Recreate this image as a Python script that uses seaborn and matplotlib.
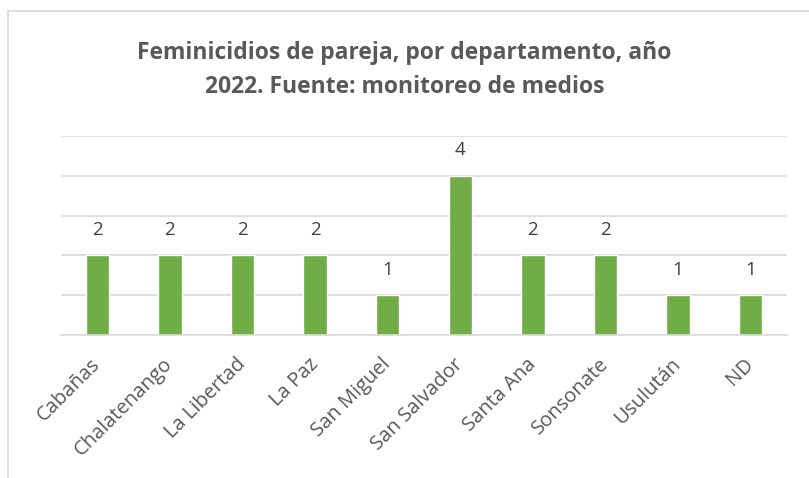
import matplotlib
matplotlib.use("Agg")
import matplotlib.pyplot as plt
import matplotlib.transforms as mtransforms
import seaborn as sns
import pandas as pd
from matplotlib.lines import Line2D

departamentos = ["Cabañas", "Chalatenango", "La Libertad", "La Paz", "San Miguel",
                 "San Salvador", "Santa Ana", "Sonsonate", "Usulután", "ND"]
casos = [2, 2, 2, 2, 1, 4, 2, 2, 1, 1]

sns.set_theme(style="white")
plt.rcParams["font.family"] = ["Open Sans", "DejaVu Sans"]

df = pd.DataFrame({"departamento": departamentos, "casos": casos})

W, H = 809, 478
fig = plt.figure(figsize=(W / 100, H / 100), dpi=100)
ax = fig.add_axes([61 / W, 1 - 335 / H, (787 - 61) / W, (335 - 136) / H])

sns.barplot(data=df, x="departamento", y="casos", color="#70ad47",
            width=0.32, ax=ax, saturation=1)

ax.set_ylim(0, 5)
ax.set_yticks(range(0, 6))
ax.yaxis.grid(True, color="#d9d9d9", linewidth=1.2)
ax.set_axisbelow(True)
ax.tick_params(axis="y", left=False, labelleft=False)
ax.tick_params(axis="x", bottom=False, length=0, pad=14)
for s in ["top", "right", "left"]:
    ax.spines[s].set_visible(False)
ax.spines["bottom"].set_color("#d9d9d9")
ax.spines["bottom"].set_linewidth(1.2)
ax.set_xlabel("")
ax.set_ylabel("")
ax.set_xlim(-0.5, len(departamentos) - 0.5)

shift = mtransforms.ScaledTranslation(-7 / 100, 0, fig.dpi_scale_trans)
for lbl in ax.get_xticklabels():
    lbl.set_rotation(45)
    lbl.set_ha("right")
    lbl.set_rotation_mode("anchor")
    lbl.set_color("#595959")
    lbl.set_fontsize(14.5)
    lbl.set_transform(lbl.get_transform() + shift)

for i, v in enumerate(casos):
    ax.text(i, v + 0.64, str(v), ha="center", va="center", color="#404040", fontsize=13.5)

fig.text(0.5, 1 - 70 / H, "Feminicidios de pareja, por departamento, año\n2022. Fuente: monitoreo de medios",
         ha="center", va="center", fontsize=16.5, fontweight="bold", color="#595959",
         linespacing=1.6)

# chart border (top and left visible)
fig.add_artist(Line2D([8 / W, 1], [1 - 11 / H, 1 - 11 / H], color="#d9d9d9", linewidth=1.2))
fig.add_artist(Line2D([8 / W, 8 / W], [0, 1 - 11 / H], color="#d9d9d9", linewidth=1.2))

fig.savefig("out.png", dpi=100, facecolor="white")
